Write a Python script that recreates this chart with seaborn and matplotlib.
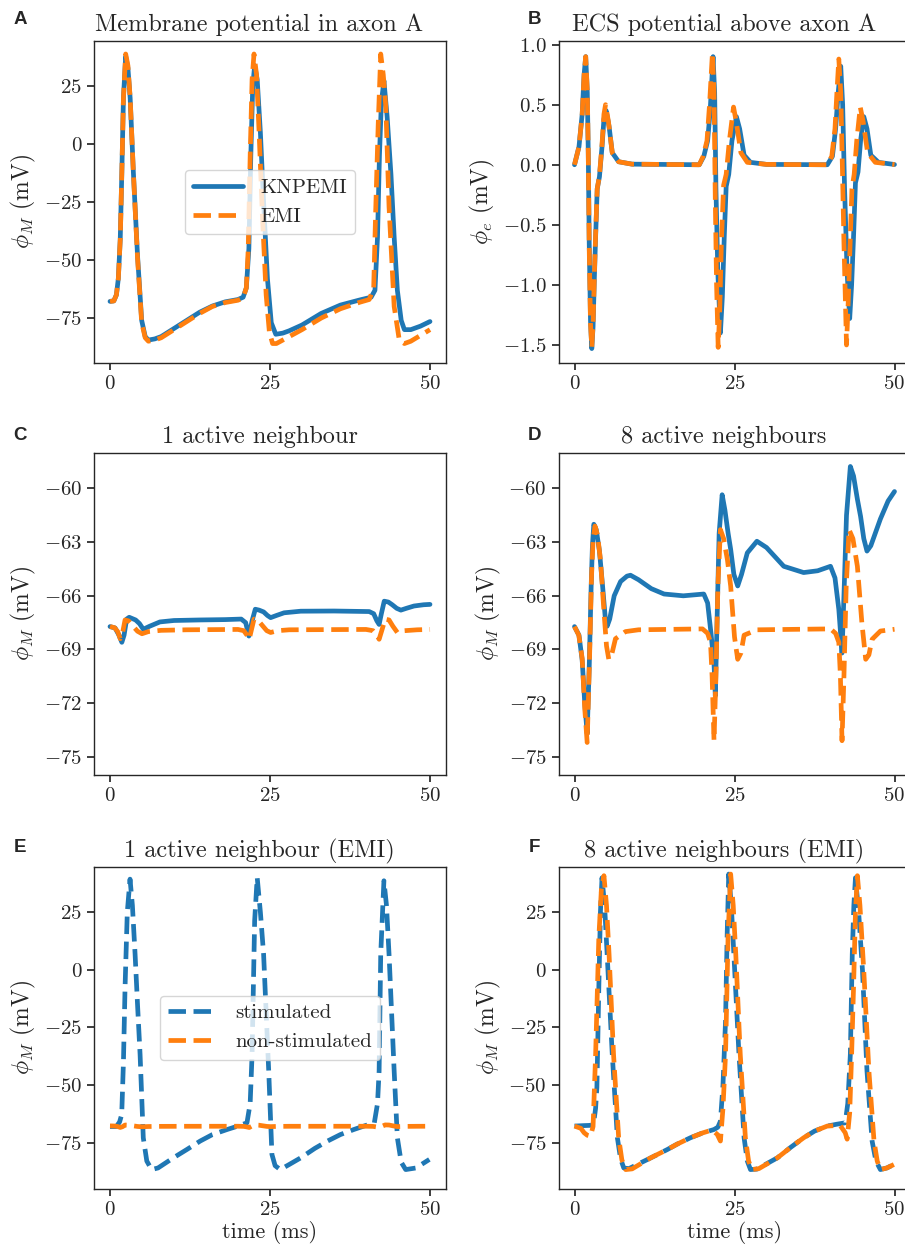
import matplotlib
matplotlib.use("Agg")
import matplotlib.pyplot as plt
import matplotlib.ticker as mticker
import seaborn as sns

# ---- data (time in ms, potential in mV) ----
# A: membrane potential in axon A
a_knp_t = [0, 0.6, 1.0, 1.3, 1.6, 1.85, 2.1, 2.45, 2.8, 3.15, 3.65, 4.3, 4.95, 5.5, 6.0, 7, 8, 10, 12, 14, 16, 18, 20,
           20.8, 21.3, 21.7, 22.0, 22.3, 22.6, 23.0, 23.5, 24.0, 24.6, 25.2, 25.9, 27, 28, 30, 33, 36, 39,
           40.8, 41.4, 41.8, 42.1, 42.4, 42.8, 43.3, 43.9, 44.4, 44.9, 45.5, 46.0, 47, 48.5, 50]
a_knp_v = [-67.8, -67.6, -65, -58, -41, -12, 20, 38, 33, 20, -12, -48, -76, -83, -84.5, -84, -83, -79.5, -76, -72.5,
           -69.8, -68, -67, -66, -62, -45, -5, 25, 34, 28, 5, -25, -58, -77, -82, -81.5, -80.5, -78, -73, -69.4, -67.2,
           -66, -63, -40, -5, 18, 27.5, 12, -13, -40, -63, -76, -80, -80, -78.5, -76.5]
a_emi_t = [0, 0.6, 1.0, 1.3, 1.6, 1.85, 2.1, 2.45, 2.8, 3.15, 3.65, 4.3, 4.95, 5.5, 6.0, 7, 8, 10, 12, 14, 16, 18, 20,
           20.8, 21.3, 21.6, 21.9, 22.2, 22.5, 22.9, 23.3, 23.8, 24.4, 24.9, 25.4, 26, 27, 28, 30, 33, 36, 39,
           40.5, 41.2, 41.5, 41.9, 42.3, 42.7, 43.1, 43.6, 44.4, 45.2, 46.0, 47, 48.5, 50]
a_emi_v = [-67.8, -67.6, -65, -58, -41, -12, 20, 39, 34, 20, -12, -49, -77, -83.5, -85, -84.5, -83.5, -80, -76.5, -73,
           -70, -68.3, -67.3, -66.3, -62, -45, -5, 28, 39, 30, 5, -30, -65, -81, -86, -86, -84.5, -83, -80, -75, -71,
           -68.2, -67, -62, -30, 8, 39, 30, 16, -27, -70, -84.5, -86, -85, -82.5, -80]

# B: ECS potential above axon A
b_knp_t = [0, 0.7, 1.2, 1.5, 1.75, 2.0, 2.15, 2.3, 2.5, 2.7, 2.9, 3.1, 3.3, 3.55, 3.9, 4.3, 4.6, 4.95, 5.4, 5.9, 6.9, 9,
           19.5, 20.2, 20.8, 21.2, 21.65, 21.9, 22.1, 22.4, 22.8, 23.1, 23.4, 23.7, 24.1, 24.6, 25.3, 25.8, 26.5, 27.5,
           30, 39.5, 40.3, 40.8, 41.2, 41.6, 41.9, 42.2, 42.6, 43.0, 43.3, 43.6, 43.9, 44.3, 44.7, 45.2, 45.7, 46.3,
           47.5, 50]
b_knp_v = [0, 0.15, 0.42, 0.75, 0.9, 0.6, 0.1, -0.65, -1.3, -1.53, -1.35, -0.95, -0.6, -0.2, -0.1, 0.15, 0.38, 0.45,
           0.32, 0.1, 0.025, 0.005, 0, 0.07, 0.2, 0.45, 0.9, 0.6, -0.2, -0.9, -1.4, -1.1, -0.6, -0.18, -0.08, 0.2, 0.4,
           0.3, 0.08, 0.02, 0.003, 0, 0.07, 0.3, 0.6, 0.82, 0.5, -0.2, -0.9, -1.28, -1.0, -0.6, -0.15, -0.06, 0.2, 0.4,
           0.3, 0.08, 0.02, 0.002]
b_emi_t = [0, 0.7, 1.2, 1.5, 1.75, 2.0, 2.15, 2.3, 2.5, 2.7, 2.9, 3.1, 3.3, 3.55, 3.9, 4.3, 4.6, 4.85, 5.3, 5.9, 6.9, 9,
           19.5, 20.1, 20.7, 21.1, 21.55, 21.8, 22.0, 22.2, 22.45, 22.7, 22.95, 23.3, 23.7, 24.2, 24.85, 25.3, 26.0,
           27, 30, 39.5, 40.2, 40.7, 41.0, 41.3, 41.6, 41.85, 42.1, 42.5, 42.8, 43.1, 43.35, 43.7, 44.1, 44.65, 45.1,
           45.8, 47, 50]
b_emi_v = [0, 0.15, 0.42, 0.75, 0.9, 0.62, 0.1, -0.7, -1.32, -1.52, -1.33, -0.93, -0.58, -0.2, -0.09, 0.17, 0.42, 0.5,
           0.36, 0.1, 0.025, 0.005, 0, 0.07, 0.2, 0.5, 0.93, 0.6, -0.3, -1.0, -1.52, -1.2, -0.65, -0.17, -0.08, 0.2,
           0.48, 0.35, 0.1, 0.02, 0.003, 0, 0.07, 0.3, 0.6, 0.88, 0.6, 0.0, -0.65, -1.5, -1.1, -0.6, -0.2, -0.08, 0.2,
           0.48, 0.36, 0.1, 0.02, 0.002]

# C: 1 active neighbour
c_knp_t = [0, 0.8, 1.4, 1.85, 2.2, 2.6, 3.0, 4.0, 4.6, 5.2, 6.2, 7.8, 10, 14, 18, 20.5, 21.2, 21.7, 22.2, 22.7, 23.3,
           24.0, 24.6, 25.1, 26, 27.2, 29.8, 35, 40.5, 41.2, 41.7, 42.05, 42.4, 42.85, 43.5, 44.1, 44.8, 45.45, 46.3,
           47.5, 49, 50]
c_knp_v = [-67.72, -67.8, -68.2, -68.6, -68.2, -67.3, -67.2, -67.35, -67.55, -67.87, -67.7, -67.46, -67.38, -67.35,
           -67.33, -67.3, -67.5, -68.25, -67.4, -66.75, -66.8, -66.9, -67.1, -67.22, -67.1, -66.95, -66.86, -66.85,
           -66.88, -67.0, -67.4, -67.6, -67.0, -66.3, -66.35, -66.5, -66.7, -66.8, -66.7, -66.57, -66.5, -66.48]
c_emi_t = [0, 0.7, 1.2, 1.6, 1.95, 2.35, 2.9, 3.6, 4.3, 5.0, 6.0, 8, 12, 20, 20.9, 21.4, 21.75, 22.1, 22.5, 23.2, 23.9,
           24.5, 25.1, 26.2, 28, 40, 41.1, 41.7, 42.05, 42.5, 43.0, 43.6, 44.2, 44.9, 46, 48, 50]
c_emi_v = [-67.72, -67.78, -68.0, -68.4, -68.1, -67.35, -67.4, -67.7, -67.98, -68.12, -68.0, -67.93, -67.9, -67.88,
           -67.95, -68.2, -68.43, -67.9, -67.3, -67.4, -67.7, -67.95, -68.05, -67.95, -67.9, -67.88, -67.95, -68.2,
           -68.43, -67.9, -67.3, -67.35, -67.7, -68.05, -67.95, -67.9, -67.88]

# D: 8 active neighbours
d_knp_t = [0, 0.7, 1.2, 1.6, 1.98, 2.3, 2.6, 2.8, 3.02, 3.4, 3.9, 4.4, 4.8, 5.1, 5.5, 6.2, 7.2, 8.2, 8.75, 10, 12, 14,
           17, 20.2, 20.8, 21.3, 21.8, 22.0, 22.3, 22.6, 23.07, 23.5, 24.0, 24.4, 24.9, 25.5, 26.1, 27.0, 28.5, 30,
           32.7, 35.8, 38, 40, 40.7, 41.3, 41.8, 42.1, 42.5, 43.1, 43.6, 44.2, 44.7, 45.2, 45.7, 46.3, 47.0, 47.8, 49,
           50]
d_knp_v = [-67.72, -68.2, -69.6, -72.0, -73.7, -70, -65.5, -63.2, -62.0, -62.3, -63.5, -65.5, -67.2, -67.7, -67.3,
           -66.0, -65.2, -64.9, -64.85, -65.1, -65.6, -65.9, -66.0, -65.9, -66.4, -68.0, -69.8, -71.6, -67, -62.5,
           -60.35, -61.2, -62.5, -63.4, -64.8, -65.45, -64.8, -63.6, -62.95, -63.3, -64.35, -64.7, -64.6, -64.35,
           -65.0, -66.76, -69.2, -66, -61.5, -58.77, -59.3, -60.6, -61.56, -62.8, -63.5, -63.2, -62.5, -61.7, -60.7,
           -60.17]
d_emi_t = [0, 0.67, 1.2, 1.6, 1.98, 2.35, 2.66, 2.9, 3.2, 3.6, 4.06, 4.58, 5.0, 5.36, 5.8, 6.4, 7.97, 10, 20, 20.8,
           21.25, 21.5, 21.8, 22.1, 22.4, 22.8, 23.3, 23.9, 24.4, 25.0, 25.5, 26.0, 26.5, 28.5, 40, 40.8, 41.3, 41.55,
           41.8, 42.1, 42.45, 42.9, 43.5, 44.2, 44.9, 45.5, 46.0, 46.5, 47.8, 50]
d_emi_v = [-67.72, -68.2, -69.5, -72.3, -74.2, -69.5, -64.9, -62.9, -62.1, -62.6, -64.0, -66.76, -68.8, -69.55,
           -69.3, -68.4, -68.0, -67.9, -67.85, -68.1, -68.6, -70.5, -74.1, -70.5, -65.5, -62.3, -62.8, -64.0, -65.45,
           -68.3, -69.55, -69.2, -68.2, -67.9, -67.85, -68.1, -68.6, -70.5, -74.1, -70.5, -65.5, -62.3, -62.8, -64.35,
           -67.5, -69.55, -69.3, -68.43, -67.97, -67.87]

# E: 1 active neighbour (EMI), non-stimulated axon is the EMI trace of panel C
e_stim_t = [0, 1.0, 1.5, 1.83, 2.1, 2.35, 2.7, 3.13, 3.5, 3.92, 4.3, 4.7, 5.2, 5.75, 6.5, 7.5, 9.9, 12, 14.1, 16, 18.3,
            20, 21.4, 21.9, 22.2, 22.6, 23.0, 23.5, 24.0, 24.8, 25.3, 25.8, 26.6, 28, 29.8, 32, 34, 36, 38.1, 40,
            41.3, 41.8, 42.05, 42.3, 42.8, 43.2, 43.6, 44.4, 44.9, 45.5, 46.2, 47.8, 49.9]
e_stim_v = [-68, -68, -66, -62.8, -40, -7.7, 25, 39.4, 28, 6.8, -15, -36.7, -72.9, -83, -86.7, -86, -81.6, -78, -74.3,
            -71.5, -69.3, -67.8, -66.4, -58, -36.7, 21.3, 40.1, 25, 6.8, -43.9, -80.1, -85, -86.7, -84.5, -81.6,
            -77.5, -74.3, -71.5, -69.3, -67.5, -66.4, -58, -43.9, 6.8, 38.7, 28, 6.8, -43.9, -72.9, -83.5, -86.7,
            -86, -82.3]
e_non_t = c_emi_t
e_non_v = c_emi_v

# F: 8 active neighbours (EMI)
f_stim_t = [0, 1.5, 2.5, 3.0, 3.3, 3.5, 3.8, 4.05, 4.3, 4.7, 5.1, 5.9, 6.7, 7.2, 7.7, 8.5, 9.8, 12, 14.5, 16, 18.1,
            20, 21.8, 22.4, 22.8, 23.2, 23.6, 23.85, 24.1, 24.5, 24.9, 25.7, 26.5, 27.0, 27.5, 28.5, 31.7, 33.8, 35.8,
            37.5, 39.5, 41, 42.3, 42.7, 43.1, 43.4, 43.65, 43.9, 44.4, 45, 45.7, 46.5, 47.1, 47.8, 48.8, 49.9]
f_stim_v = [-67.8, -67.6, -67.5, -66.5, -60, -51, -7.7, 25, 40, 28, 6.8, -36.7, -72.9, -82, -86, -86.3, -84.5, -81.5,
            -78, -75.7, -72.9, -70.8, -69.3, -68.3, -65.7, -50, -22, 15, 41.6, 28, 6.8, -36.7, -72.9, -83, -86.7,
            -86.5, -81.6, -77, -72.9, -70, -67.8, -67, -66.4, -58, -36.7, 6.8, 28, 40, 25, -0.4, -43.9, -74.3, -83,
            -86.7, -86, -84.5]
f_non_t = [0, 1.0, 1.5, 2.0, 2.5, 2.9, 3.3, 3.8, 4.2, 4.6, 5.0, 5.4, 6.1, 6.9, 7.4, 8.0, 9.0, 11.9, 14.5, 16, 18.1, 20,
           21.5, 22.3, 22.8, 23.2, 23.6, 24.0, 24.4, 24.8, 25.2, 25.9, 26.7, 27.2, 27.7, 28.8, 31.7, 33.8, 35.8, 37.5,
           39.5, 41.5, 42.3, 42.6, 43.0, 43.3, 43.6, 43.9, 44.2, 44.6, 45.2, 46.0, 46.8, 47.3, 47.8, 48.8, 49.9]
f_non_v = [-67.8, -68.8, -70.7, -71.8, -72.2, -68, -36.7, 14, 35, 40.9, 28, 6.8, -36.7, -72.9, -82.5, -86.7, -86.4,
           -81.6, -78, -75.7, -72.9, -70.8, -69.5, -71.4, -74.3, -60, -36.7, 15, 41.6, 28, 6.8, -36.7, -72.9, -83,
           -86.7, -86.3, -81.6, -77, -72.9, -70, -67.8, -67.5, -70.7, -73.5, -62, -36.7, -7.7, 25, 40.9, 28, -0.4,
           -43.9, -74.3, -83, -86.7, -86, -84.5]

titles = ["Membrane potential in axon A", "ECS potential above axon A", "1 active neighbour",
          "8 active neighbours", "1 active neighbour (EMI)", "8 active neighbours (EMI)"]
letters = ["A", "B", "C", "D", "E", "F"]
x_ticks = [0, 25, 50]

BLUE = "#1f77b4"
ORANGE = "#ff7f0e"
LW = 3.4

sns.set_theme(style="ticks")
plt.rcParams.update({
    "font.family": "cmr10",
    "mathtext.fontset": "cm",
    "axes.formatter.use_mathtext": True,
    "axes.edgecolor": "0.15",
    "axes.linewidth": 1.0,
    "xtick.labelsize": 15,
    "ytick.labelsize": 15,
    "legend.fontsize": 15,
    "xtick.major.size": 5,
    "ytick.major.size": 5,
})

W, H = 905, 1250
fig, axes = plt.subplots(3, 2, figsize=(W / 100, H / 100), dpi=100)

col_left = [94, 558.5]
row_top = [41, 452.7, 866.7]
ax_w, ax_h = 352, 322
for r in range(3):
    for c in range(2):
        axes[r, c].set_position([col_left[c] / W, 1 - (row_top[r] + ax_h) / H, ax_w / W, ax_h / H])


def draw(ax, t, v, color, ls, label=None):
    sns.lineplot(x=t, y=v, ax=ax, color=color, linestyle=ls, linewidth=LW, estimator=None, sort=False,
                 label=label)


# row 1
draw(axes[0, 0], a_knp_t, a_knp_v, BLUE, "-", "KNPEMI")
draw(axes[0, 0], a_emi_t, a_emi_v, ORANGE, "--", "EMI")
draw(axes[0, 1], b_knp_t, b_knp_v, BLUE, "-")
draw(axes[0, 1], b_emi_t, b_emi_v, ORANGE, "--")
# row 2
draw(axes[1, 0], c_knp_t, c_knp_v, BLUE, "-")
draw(axes[1, 0], c_emi_t, c_emi_v, ORANGE, "--")
draw(axes[1, 1], d_knp_t, d_knp_v, BLUE, "-")
draw(axes[1, 1], d_emi_t, d_emi_v, ORANGE, "--")
# row 3
draw(axes[2, 0], e_stim_t, e_stim_v, BLUE, "--", "stimulated")
draw(axes[2, 0], e_non_t, e_non_v, ORANGE, "--", "non-stimulated")
draw(axes[2, 1], f_stim_t, f_stim_v, BLUE, "--")
draw(axes[2, 1], f_non_t, f_non_v, ORANGE, "--")

ylims = [(-94.4, 44.6), (-1.65, 1.03), (-76, -58), (-76, -58), (-95, 44.8), (-95, 44.8)]
yticks = [[-75, -50, -25, 0, 25], [-1.5, -1.0, -0.5, 0.0, 0.5, 1.0], [-75, -72, -69, -66, -63, -60],
          [-75, -72, -69, -66, -63, -60], [-75, -50, -25, 0, 25], [-75, -50, -25, 0, 25]]
ylabels = [r"$\phi_M$ (mV)", r"$\phi_e$ (mV)"] + [r"$\phi_M$ (mV)"] * 4

for i, ax in enumerate(axes.flat):
    ax.set_xlim(-2.5, 52.5)
    ax.set_ylim(*ylims[i])
    ax.set_xticks(x_ticks)
    ax.set_yticks(yticks[i])
    ax.set_ylabel(ylabels[i], fontsize=17, labelpad=4)
    ax.set_xlabel("time (ms)" if i >= 4 else "", fontsize=16, labelpad=2)
    ax.set_title(titles[i], fontsize=17.5, pad=7, x=0.47)
    if ax.get_legend() is not None:
        ax.get_legend().remove()
    r, c = divmod(i, 2)
    fig.text((20 if c == 0 else 534) / W, 1 - (19 + [0, 416, 828][r]) / H, letters[i], ha="center", va="center",
             fontsize=13.5, fontweight="bold", family="Liberation Sans")

axes[0, 1].yaxis.set_major_formatter(mticker.FormatStrFormatter(r"$%.1f$"))

for ax in (axes[0, 0], axes[2, 0]):
    ax.legend(loc="center", handlelength=2.4, frameon=True, fancybox=True, framealpha=0.8)

fig.savefig("out.png", dpi=100)
